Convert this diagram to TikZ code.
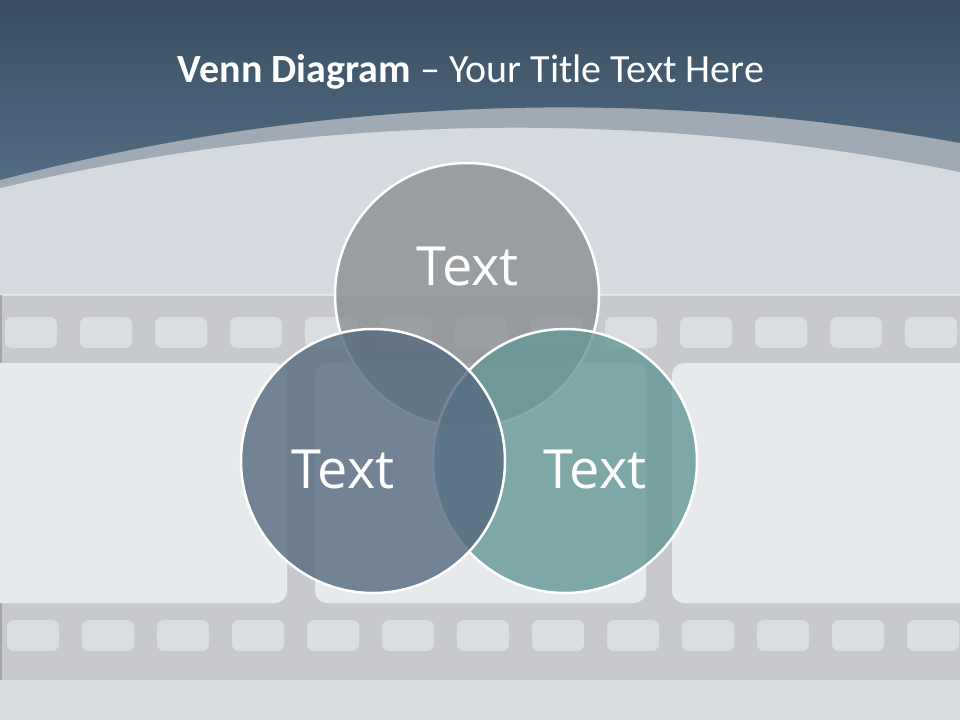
\documentclass[tikz,border=0pt]{standalone}
\usepackage{fontspec}
\setmainfont{Carlito}
\newfontfamily\lblfont{Open Sans}
\definecolor{bgc}{RGB}{212,218,224}
\definecolor{lowbg}{RGB}{216,221,226}
\definecolor{stripc}{RGB}{199,201,204}
\definecolor{holec}{RGB}{218,222,227}
\definecolor{framec}{RGB}{231,234,237}
\definecolor{bandc}{RGB}{160,170,180}
\definecolor{banTop}{RGB}{57,78,96}
\definecolor{banBot}{RGB}{82,108,131}
\definecolor{topc}{RGB}{140,143,146}
\definecolor{leftc}{RGB}{84,106,127}
\definecolor{rightc}{RGB}{100,152,151}
\tikzset{
  venn/.style={circle, minimum size=264pt, inner sep=0pt, draw=white, line width=2.5pt, fill opacity=0.8},
  lbl/.style={text=white, font=\lblfont\fontsize{54}{64}\selectfont, anchor=base, inner sep=0pt},
  holebox/.style={fill=holec, rounded corners=7pt},
  framebox/.style={fill=framec, rounded corners=12pt}
}
\begin{document}
\begin{tikzpicture}[x=1pt,y=-1pt]
\useasboundingbox (0,0) rectangle (960,720);
\fill[bgc] (0,0) rectangle (960,720);
\fill[lowbg] (0,680) rectangle (960,720);
% film strip
\fill[stripc] (0,295) rectangle (960,680);
\fill[white,opacity=0.45] (0,294) rectangle (960,296);
\fill[black!35] (0,295) rectangle (1.5,363);
\fill[black!35] (0,603) rectangle (1.5,680);
\foreach \i in {0,...,12} {
  \fill[holebox] ({5+75*\i},317) rectangle ++(52,31);
  \fill[holebox] ({7+75*\i},620) rectangle ++(52,31);
}
\fill[framebox] (-44,363) rectangle (287,603);
\fill[framebox] (315,363) rectangle (646,603);
\fill[framebox] (672,363) rectangle (1003,603);
% banner
\fill[bandc] (-2,-2) -- plot[domain=-2:962, samples=80] (\x, {2370 - 2242.3*sqrt(1-((\x-516.5)/2242.3)^2)}) -- (962,-2) -- cycle;
\shade[top color=banTop, bottom color=banBot] (-2,-2) -- plot[domain=-2:962, samples=80] (\x, {2332.8 - 2225.4*sqrt(1-((\x-563.7)/2225.4)^2)}) -- (962,-2) -- cycle;
\node[text=white, font=\fontsize{40}{48}\selectfont, anchor=base, inner sep=0pt] (title) at (471,82) {\textbf{Venn Diagram} – Your Title Text Here};
% venn
\node[venn, fill=topc] (top) at (467,295) {};
\node[venn, fill=rightc] (right) at (565,461) {};
\node[venn, fill=leftc] (left) at (373,461) {};
\node[lbl] (ttop) at (467.5,285.5) {Text};
\node[lbl] (tleft) at (343,488) {Text};
\node[lbl] (tright) at (595,488) {Text};
\end{tikzpicture}
\end{document}
